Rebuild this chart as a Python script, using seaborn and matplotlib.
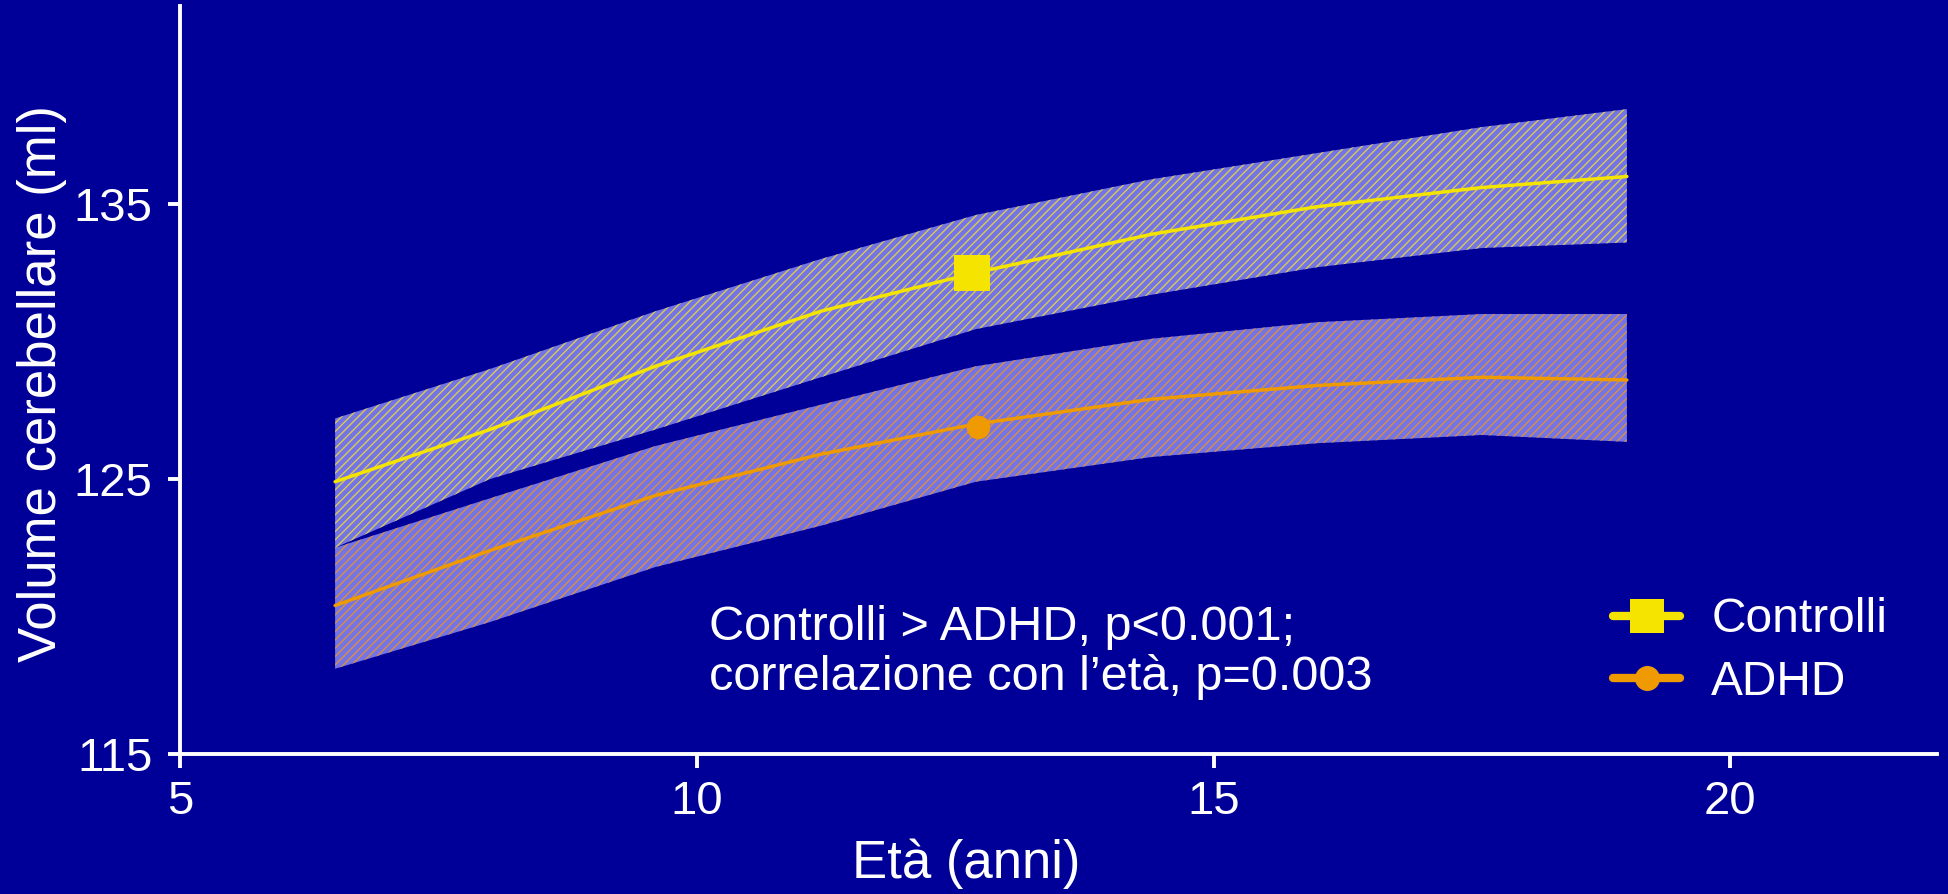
import numpy as np
import pandas as pd
import matplotlib
matplotlib.use("Agg")
import matplotlib.pyplot as plt
import seaborn as sns
from matplotlib.lines import Line2D

# ---------------- data ----------------
ages = [6.5, 8.0, 9.6, 11.2, 12.7, 14.4, 16.0, 17.6, 19.0]
ctrl_mean = [124.9, 126.8, 129.1, 131.1, 132.5, 133.9, 134.9, 135.6, 136.0]
ctrl_upper = [127.2, 129.0, 131.1, 133.0, 134.6, 135.9, 136.85, 137.8, 138.45]
ctrl_lower = [122.5, 125.0, 126.8, 128.7, 130.45, 131.7, 132.7, 133.4, 133.6]
adhd_mean = [120.4, 122.4, 124.4, 125.9, 127.0, 127.9, 128.4, 128.7, 128.6]
adhd_upper = [122.5, 124.3, 126.2, 127.7, 129.1, 130.1, 130.7, 131.0, 131.0]
adhd_lower = [118.1, 119.8, 121.8, 123.3, 124.9, 125.8, 126.3, 126.6, 126.35]

groups = ["Controlli", "ADHD"]
marker_age = [12.66, 12.72]
marker_vol = [132.5, 126.9]

x_ticks = [5, 10, 15, 20]
y_ticks = [115, 125, 135]
x_label = "Età (anni)"
y_label = "Volume cerebellare (ml)"
note_lines = ["Controlli > ADHD, p<0.001;", "correlazione con l’età, p=0.003"]

# ---------------- style ----------------
BG = "#000099"
FILL = "#7474E6"
C_YEL = "#F5E300"
C_ORA = "#EE9A00"
H_YEL = "#D8CC50"
H_ORA = "#D89040"
WHITE = "white"

sns.set_theme(style="ticks")
plt.rcParams["font.family"] = ["Liberation Sans", "DejaVu Sans"]
plt.rcParams["hatch.linewidth"] = 1.0

fig = plt.figure(figsize=(19.49, 8.94), dpi=100, facecolor=BG)
ax = fig.add_axes([0.0924, 0.1566, 0.9014, 0.8367])
ax.set_facecolor(BG)

# bands
ax.fill_between(ages, adhd_lower, adhd_upper, facecolor=FILL, edgecolor=H_ORA,
                hatch="////", linewidth=0, zorder=1)
ax.fill_between(ages, ctrl_lower, ctrl_upper, facecolor=FILL, edgecolor=H_YEL,
                hatch="////", linewidth=0, zorder=1)

# mean lines
df = pd.DataFrame({
    "age": ages * 2,
    "vol": ctrl_mean + adhd_mean,
    "group": [groups[0]] * len(ages) + [groups[1]] * len(ages),
})
sns.lineplot(data=df, x="age", y="vol", hue="group",
             palette={groups[0]: C_YEL, groups[1]: C_ORA},
             linewidth=2.5, legend=False, ax=ax, zorder=3)

# markers
mk = pd.DataFrame({"age": marker_age, "vol": marker_vol, "group": groups})
sns.scatterplot(data=mk[mk.group == groups[0]], x="age", y="vol", marker="s",
                s=26 ** 2, color=C_YEL, linewidth=0, legend=False, ax=ax, zorder=4)
sns.scatterplot(data=mk[mk.group == groups[1]], x="age", y="vol", marker="o",
                s=17 ** 2, color=C_ORA, linewidth=0, legend=False, ax=ax, zorder=4)

# axes
ax.set_xlim(5, 22)
ax.set_ylim(115, 142.2)
ax.set_xticks(x_ticks)
ax.set_yticks(y_ticks)
ax.set_xlabel("")
ax.set_ylabel("")
sns.despine(ax=ax)
for s in ["left", "bottom"]:
    ax.spines[s].set_color(WHITE)
    ax.spines[s].set_linewidth(2.8)
ax.tick_params(axis="x", colors=WHITE, labelsize=34, length=10, width=2.8, pad=9)
ax.tick_params(axis="y", colors=WHITE, labelsize=34, length=9, width=2.8, pad=11)

fig.text(966 / 1949, 1 - 864 / 894, x_label, color=WHITE, fontsize=38,
         ha="center", va="center")
fig.text(42 / 1949, 1 - 384 / 894, y_label, color=WHITE, fontsize=38,
         ha="center", va="center", rotation=90)

fig.text(709 / 1949, 1 - 640 / 894, note_lines[0], color=WHITE, fontsize=35,
         ha="left", va="baseline")
fig.text(709 / 1949, 1 - 690 / 894, note_lines[1], color=WHITE, fontsize=35,
         ha="left", va="baseline")

handles = [
    Line2D([0], [0], color=C_YEL, lw=6, marker="s", markersize=25, markeredgewidth=0),
    Line2D([0], [0], color=C_ORA, lw=6, marker="o", markersize=18, markeredgewidth=0),
]
leg = fig.legend(handles, groups, loc="center left",
                 bbox_to_anchor=(1570 / 1949, 1 - 651 / 894),
                 frameon=False, fontsize=34.5, handlelength=1.4,
                 handletextpad=0.65, labelspacing=0.36, borderpad=0.4)
for t in leg.get_texts():
    t.set_color(WHITE)

fig.savefig("out.png", dpi=100, facecolor=BG)
